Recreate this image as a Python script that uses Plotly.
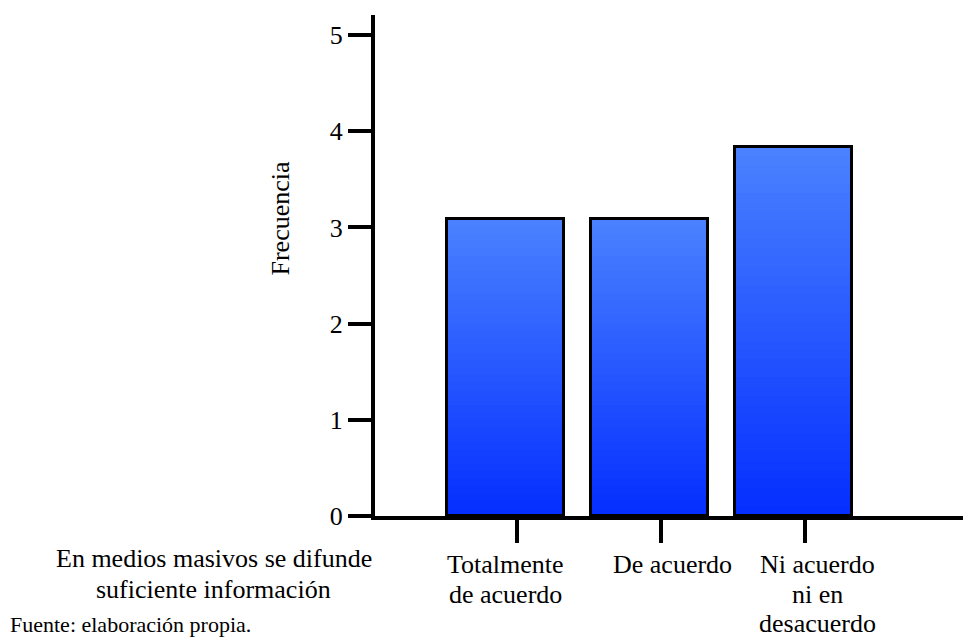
import plotly.graph_objects as go

# ---- data ----
categories = ["Totalmente de acuerdo", "De acuerdo", "Ni acuerdo ni en desacuerdo"]
label_lines = [["Totalmente", "de acuerdo"], ["De acuerdo"], ["Ni acuerdo", "ni en", "desacuerdo"]]
frecuencia = [3.09, 3.09, 3.84]
y_ticks = [0, 1, 2, 3, 4, 5]
y_title = "Frecuencia"
x_title_lines = ["En medios masivos se difunde", "suficiente información"]
source_note = "Fuente: elaboración propia."

# ---- style ----
W, H = 963, 638
L, R, T, B = 375, 0, 15, 122
PW, PH = W - L - R, H - T - B
PX_X = 144.0          # px per category
PX_Y = 96.2           # px per unit
x0 = -(505 - L) / PX_X
x1 = x0 + PW / PX_X
y0 = 0
y1 = y0 + PH / PX_Y
FONT = "Liberation Serif, Times New Roman, serif"
top_rgb = (74, 130, 255)
bot_rgb = (4, 46, 255)
N = 40
bar_w = 117 / PX_X
tick_off = 0.086
label_off = [0.0, 0.16, 0.167]

xs = list(range(len(categories)))

def px_to_paper_x(px):
    return (px - L) / PW

def px_to_paper_y(py):
    return (H - B - py) / PH

fig = go.Figure()
for k in range(N):
    frac_top = 1 - k / N
    f = 1 - (k + 0.5) / N
    c = tuple(round(bot_rgb[i] + (top_rgb[i] - bot_rgb[i]) * f) for i in range(3))
    fig.add_trace(go.Bar(
        x=xs, y=[v * frac_top for v in frecuencia], width=bar_w,
        marker=dict(color="rgb(%d,%d,%d)" % c, line=dict(width=0)),
        hoverinfo="skip", showlegend=False,
    ))
fig.add_trace(go.Bar(
    x=xs, y=frecuencia, width=bar_w, name="Frecuencia",
    marker=dict(color="rgba(0,0,0,0)", line=dict(color="black", width=3)),
    showlegend=False,
))

ann = []
# category labels
base_y = [564, 594, 623]
for i, lines in enumerate(label_lines):
    for j, t in enumerate(lines):
        ann.append(dict(text=t, x=xs[i] + label_off[i], xref="x",
                        y=px_to_paper_y(base_y[j]), yref="paper",
                        xanchor="center", yanchor="middle", showarrow=False,
                        font=dict(family=FONT, size=26, color="black")))
# x title lines
for j, t in enumerate(x_title_lines):
    ann.append(dict(text=t, x=px_to_paper_x(214), xref="paper",
                    y=px_to_paper_y([558, 589][j]), yref="paper",
                    xanchor="center", yanchor="middle", showarrow=False,
                    font=dict(family=FONT, size=26, color="black")))
# y title
ann.append(dict(text=y_title, x=px_to_paper_x(280), xref="paper",
                y=px_to_paper_y(218.5), yref="paper", textangle=-90,
                xanchor="center", yanchor="middle", showarrow=False,
                font=dict(family=FONT, size=26, color="black")))
# source
ann.append(dict(text=source_note, x=px_to_paper_x(8), xref="paper",
                y=px_to_paper_y(624), yref="paper",
                xanchor="left", yanchor="middle", showarrow=False,
                font=dict(family=FONT, size=22, color="black")))

fig.update_layout(
    width=W, height=H, margin=dict(l=L, r=R, t=T, b=B),
    paper_bgcolor="white", plot_bgcolor="white",
    barmode="overlay", bargap=0,
    annotations=ann,
    xaxis=dict(range=[x0, x1], showgrid=False, zeroline=False,
               showline=True, linecolor="black", linewidth=4,
               tickmode="array", tickvals=[x + tick_off for x in xs],
               ticktext=["" for _ in xs], showticklabels=False,
               ticks="outside", ticklen=23, tickwidth=4, tickcolor="black"),
    yaxis=dict(range=[y0, y1], showgrid=False, zeroline=False,
               showline=True, linecolor="black", linewidth=4,
               tickmode="array", tickvals=y_ticks, ticktext=[str(t) for t in y_ticks],
               ticks="outside", ticklen=23, tickwidth=4, tickcolor="black",
               tickfont=dict(family=FONT, size=26, color="black")),
)
fig.write_html("out.html")
